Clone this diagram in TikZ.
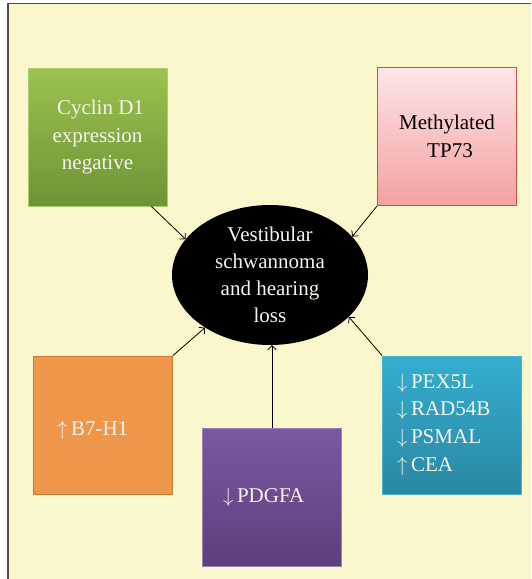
\documentclass[tikz,border=0pt]{standalone}
\usepackage{fontspec}
\setmainfont{Liberation Serif}
\usetikzlibrary{arrows.meta,shapes.geometric}
\definecolor{bg}{HTML}{FAF7CD}
\definecolor{frame}{HTML}{4A4D48}
\definecolor{txt}{HTML}{F6F3EC}
\begin{document}
\begin{tikzpicture}[x=1pt,y=-1pt,
  box/.style={rectangle,inner sep=0pt,minimum width=139pt,minimum height=138pt,line width=0.8pt,text=txt,align=center,font=\fontsize{21}{27.5}\selectfont},
  conn/.style={line width=0.8pt,-{Straight Barb[length=4pt,width=8.5pt]}},
  txtn/.style={inner sep=0pt,text=txt,font=\fontsize{21}{27.6}\selectfont,align=left}]
\useasboundingbox (0,0) rectangle (531,579);
\fill[bg] (8,3.5) rectangle (531,579);
\draw[frame,line width=2pt] (8,579) -- (8,3.5);
\draw[frame,line width=1.5pt] (7,3.5) -- (531,3.5);
% boxes
\node[box,top color={rgb,255:red,156;green,194;blue,80},bottom color={rgb,255:red,110;green,147;blue,54},draw={rgb,255:red,170;green,204;blue,110}] (g) at (97.5,137) {\hspace*{6pt}Cyclin D1\\expression\\negative};
\node[box,top color={rgb,255:red,253;green,229;blue,231},bottom color={rgb,255:red,245;green,160;blue,161},draw={rgb,255:red,200;green,80;blue,79},text=black] (p) at (447,136.5) {Methylated\\\hspace*{6pt}TP73};
\node[box,fill={rgb,255:red,238;green,150;blue,74},draw={rgb,255:red,200;green,124;blue,58}] (o) at (103,425) {};
\node[txtn,anchor=base west] (ot) at (57,435) {$\uparrow$\,B7-H1};
\node[box,top color={rgb,255:red,123;green,88;blue,162},bottom color={rgb,255:red,92;green,63;blue,122},draw={rgb,255:red,150;green,130;blue,185}] (u) at (272,497) {};
\node[txtn,anchor=base west] (ut) at (223,502) {$\downarrow$\,PDGFA};
\node[box,top color={rgb,255:red,52;green,174;blue,208},bottom color={rgb,255:red,42;green,135;blue,162},draw={rgb,255:red,72;green,182;blue,210}] (t) at (452,425) {};
\node[txtn,anchor=base west] (tt) at (397,471) {$\downarrow$\,PEX5L\\$\downarrow$\,RAD54B\\$\downarrow$\,PSMAL\\$\uparrow$\,CEA};
% centre
\node[ellipse,fill=black,inner sep=0pt,minimum width=196pt,minimum height=140pt,text=txt,align=center,font=\fontsize{21}{27}\selectfont] (e) at (270,275) {Vestibular\\schwannoma\\and hearing\\loss};
% connectors
\draw[conn] ([xshift=-16pt]g.south east) -- (e.157);
\draw[conn] (p.south west) -- (e.25);
\draw[conn] (o.north east) -- (e.219);
\draw[conn] (t.north west) -- (e.-28);
\draw[conn] (u.north) -- (u.north |- e.south);
\end{tikzpicture}
\end{document}
